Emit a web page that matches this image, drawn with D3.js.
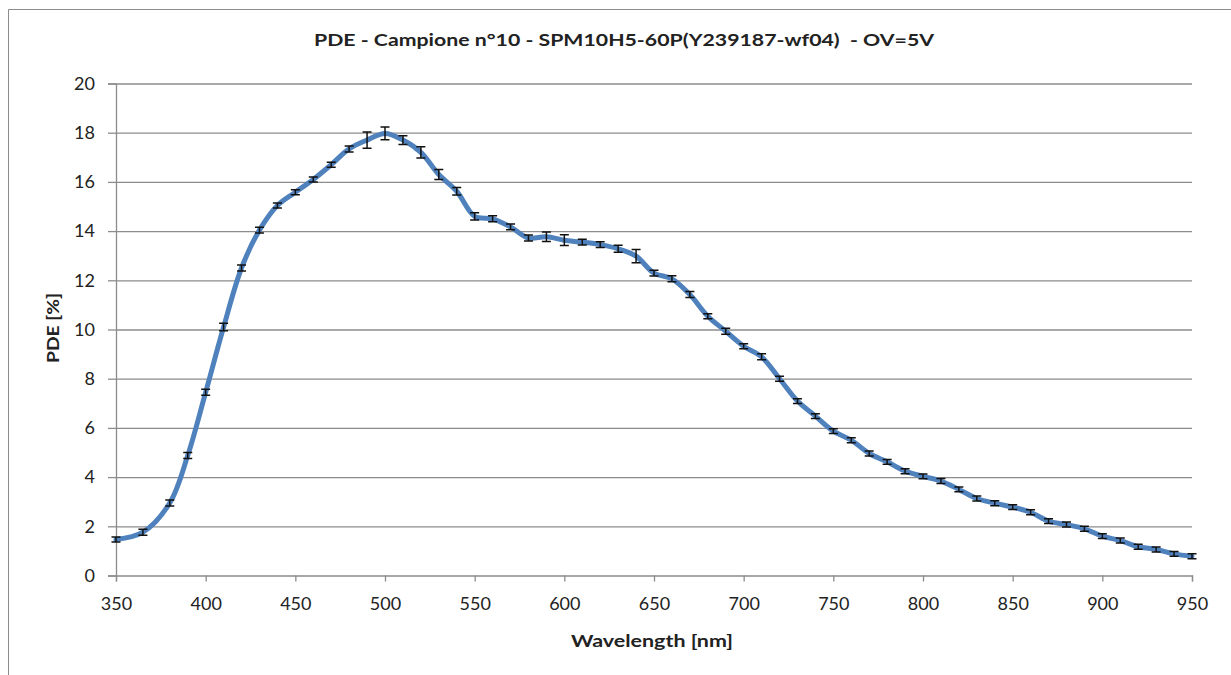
<!DOCTYPE html>
<html>
<head>
<meta charset="utf-8">
<script src="https://cdn.jsdelivr.net/npm/d3@7"></script>
<style>
	body { margin: 0; background: #fff; }
	svg { display: block; }
</style>
</head>
<body>
<div id="chart"></div>
<script>
// wavelength [nm] and PDE [%], with error bar half widths
const wavelengths = [350, 365, 380, 390, 400, 410, 420, 430, 440, 450, 460, 470, 480, 490, 500, 510, 520, 530, 540, 550,
	560, 570, 580, 590, 600, 610, 620, 630, 640, 650, 660, 670, 680, 690, 700, 710, 720, 730, 740, 750,
	760, 770, 780, 790, 800, 810, 820, 830, 840, 850, 860, 870, 880, 890, 900, 910, 920, 930, 940, 950];
const pdeValues = [1.46, 1.76, 2.95, 4.88, 7.45, 10.1, 12.5, 14.04, 15.04, 15.58, 16.1, 16.7, 17.34, 17.7, 17.97, 17.7, 17.2, 16.3, 15.62, 14.6,
	14.5, 14.17, 13.72, 13.77, 13.63, 13.55, 13.45, 13.28, 12.98, 12.29, 12.06, 11.42, 10.54, 9.93, 9.32, 8.89, 8.0, 7.09, 6.48, 5.87,
	5.5, 4.96, 4.62, 4.24, 4.03, 3.84, 3.5, 3.13, 2.94, 2.78, 2.57, 2.21, 2.07, 1.9, 1.6, 1.42, 1.17, 1.06, 0.88, 0.78];
const pdeErrors = [0.1, 0.12, 0.12, 0.12, 0.12, 0.15, 0.12, 0.12, 0.1, 0.1, 0.1, 0.1, 0.12, 0.33, 0.26, 0.18, 0.23, 0.2, 0.15, 0.15,
	0.12, 0.12, 0.12, 0.19, 0.22, 0.12, 0.12, 0.14, 0.27, 0.12, 0.12, 0.12, 0.1, 0.12, 0.1, 0.12, 0.1, 0.1, 0.1, 0.1,
	0.1, 0.1, 0.1, 0.1, 0.1, 0.1, 0.1, 0.1, 0.1, 0.1, 0.1, 0.1, 0.1, 0.1, 0.1, 0.1, 0.1, 0.1, 0.1, 0.1];
const xTicks = [350, 400, 450, 500, 550, 600, 650, 700, 750, 800, 850, 900, 950];
const yTicks = [0, 2, 4, 6, 8, 10, 12, 14, 16, 18, 20];

const chartTitle = 'PDE - Campione n°10 - SPM10H5-60P(Y239187-wf04)  - OV=5V';
const xTitle = 'Wavelength [nm]';
const yTitle = 'PDE [%]';

const width = 1231;
const height = 675;
const plotLeft = 116;
const plotRight = 1192;
const plotTop = 83.5;
const plotBottom = 575.5;
const fontFamily = 'Lato, "Open Sans", sans-serif';
const gridColor = '#8c8c8c';

const svg = d3.select('#chart')
	.append('svg')
	.attr('width', width)
	.attr('height', height)
	.style('font-family', fontFamily);

// outer chart frame (top and left edge visible)
svg.append('path')
	.attr('d', 'M8.5,675 L8.5,9.5 L1231,9.5')
	.attr('fill', 'none')
	.attr('stroke', '#8c8c8c')
	.attr('stroke-width', 1);

const xScale = d3.scaleLinear().domain([350, 950]).range([plotLeft, plotRight]);
const yScale = d3.scaleLinear().domain([0, 20]).range([plotBottom, plotTop]);

// horizontal grid
svg.append('g')
	.attr('transform', 'translate(' + plotLeft + ',0)')
	.call(d3.axisRight(yScale).tickValues(yTicks.slice(1)).tickSize(plotRight - plotLeft).tickFormat(() => ''))
	.call((g) => g.select('.domain').remove())
	.call((g) => g.selectAll('.tick line').attr('stroke', gridColor).attr('stroke-width', 1.3));

const yAxis = svg.append('g')
	.attr('transform', 'translate(' + plotLeft + ',0)')
	.call(d3.axisLeft(yScale).tickValues(yTicks).tickSize(8).tickPadding(13));
const xAxis = svg.append('g')
	.attr('transform', 'translate(0,' + plotBottom + ')')
	.call(d3.axisBottom(xScale).tickValues(xTicks).tickSize(6).tickPadding(16));

[xAxis, yAxis].forEach((axis) => {
	axis.select('.domain').attr('stroke', gridColor).attr('stroke-width', 1.3);
	axis.selectAll('.tick line').attr('stroke', gridColor).attr('stroke-width', 1.3);
	axis.selectAll('.tick text')
		.style('font-size', '18px')
		.style('font-family', fontFamily)
		.attr('fill', '#222');
});

const points = wavelengths.map((w, i) => ({ x: w, y: pdeValues[i], e: pdeErrors[i] }));

const line = d3.line()
	.x((d) => xScale(d.x))
	.y((d) => yScale(d.y))
	.curve(d3.curveCatmullRom.alpha(0.5));

svg.append('path')
	.datum(points)
	.attr('d', line)
	.attr('fill', 'none')
	.attr('stroke', '#4f81bd')
	.attr('stroke-width', 5)
	.attr('stroke-linejoin', 'round')
	.attr('stroke-linecap', 'round');

// error bars
const capHalf = 4.5;
const errG = svg.append('g')
	.attr('stroke', '#111')
	.attr('stroke-width', 1.5);
errG.selectAll('path')
	.data(points)
	.enter()
	.append('path')
	.attr('fill', 'none')
	.attr('d', (d) => {
		const cx = xScale(d.x);
		const y1 = yScale(d.y + d.e);
		const y2 = yScale(d.y - d.e);
		return 'M' + (cx - capHalf) + ',' + y1 + 'H' + (cx + capHalf)
			+ 'M' + cx + ',' + y1 + 'V' + y2
			+ 'M' + (cx - capHalf) + ',' + y2 + 'H' + (cx + capHalf);
	});

svg.append('text')
	.attr('x', 624)
	.attr('y', 46)
	.attr('text-anchor', 'middle')
	.attr('textLength', 620)
	.attr('lengthAdjust', 'spacingAndGlyphs')
	.style('white-space', 'pre')
	.style('font-size', '17px')
	.style('font-weight', 'bold')
	.attr('fill', '#222')
	.text(chartTitle);

svg.append('text')
	.attr('x', 652)
	.attr('y', 647)
	.attr('text-anchor', 'middle')
	.attr('textLength', 162)
	.attr('lengthAdjust', 'spacingAndGlyphs')
	.style('font-size', '17px')
	.style('font-weight', 'bold')
	.attr('fill', '#222')
	.text(xTitle);

svg.append('text')
	.attr('transform', 'translate(59,328) rotate(-90)')
	.attr('text-anchor', 'middle')
	.attr('textLength', 70)
	.attr('lengthAdjust', 'spacingAndGlyphs')
	.style('font-size', '17px')
	.style('font-weight', 'bold')
	.attr('fill', '#222')
	.text(yTitle);
</script>
</body>
</html>
